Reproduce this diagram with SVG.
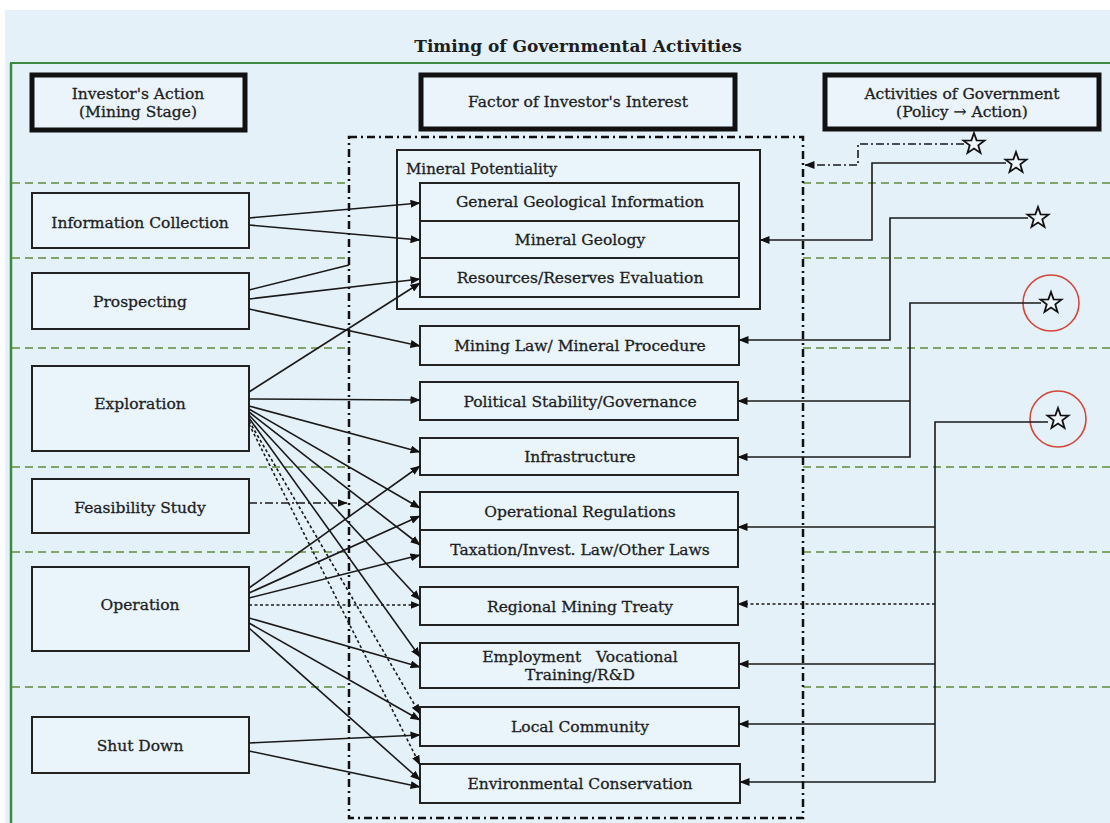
<svg xmlns="http://www.w3.org/2000/svg" width="1110" height="823" viewBox="0 0 1110 823">
<style>
text{font-family:"DejaVu Serif","Liberation Serif",serif;fill:#1e1e1e;stroke:#1e1e1e;stroke-width:0.3;font-size:15.5px;text-anchor:middle}
.title{font-weight:bold;font-size:17px;stroke-width:0}
.hdr{fill:#eaf4fa;stroke:#111;stroke-width:5}
.box{fill:#e9f4fb;stroke:#222;stroke-width:2}
.sep{stroke:#5f8a3a;stroke-width:1.6;stroke-dasharray:8 5;fill:none}
.c{stroke:#1a1a1a;stroke-width:1.6;fill:none}
.arr{marker-end:url(#ah)}
.dot{stroke-dasharray:3 2.5}
.dd{stroke-dasharray:8 3 2 3}
.star{fill:#eef6fb;stroke:#111;stroke-width:1.8;stroke-linejoin:miter}
.ring{fill:none;stroke:#d2473a;stroke-width:1.6}
</style>
<defs>
<marker id="ah" markerWidth="10" markerHeight="8" refX="9.5" refY="4" orient="auto" markerUnits="userSpaceOnUse"><path d="M0,0 L10,4 L0,8 z" fill="#111"/></marker>
<polygon id="star" points="0,-11 2.6,-3.6 10.5,-3.4 4.3,1.4 6.5,8.9 0,4.5 -6.5,8.9 -4.3,1.4 -10.5,-3.4 -2.6,-3.6"/>
</defs>
<rect x="0" y="0" width="1110" height="823" fill="#ffffff"/>
<rect x="5" y="10" width="1105" height="813" fill="#e4f1f8"/>
<g id="frame">
<line x1="10" y1="63" x2="1110" y2="63" stroke="#3d8b3d" stroke-width="2"/>
<line x1="11" y1="63" x2="11" y2="823" stroke="#3d8b3d" stroke-width="2.5"/>
<text class="title" x="578" y="52">Timing of Governmental Activities</text>
</g>
<g id="separators">
<path class="sep" d="M12,183 H349 M12,258 H349 M12,348 H349 M12,467 H349 M12,552 H349 M12,687 H349"/>
<path class="sep" d="M803,183 H1110 M803,258 H1110 M803,348 H1110 M803,467 H1110 M803,552 H1110 M803,687 H1110"/>
</g>
<rect id="factor-area" x="349" y="137" width="454" height="681" fill="none" stroke="#111" stroke-width="2.5" stroke-dasharray="8 4 2 4"/>
<g id="hdr-investor"><rect class="hdr" x="32" y="75" width="213" height="55"/><text x="138" y="99">Investor's Action</text><text x="138" y="117">(Mining Stage)</text></g>
<g id="hdr-factor"><rect class="hdr" x="421" y="75" width="314" height="54"/><text x="578" y="107">Factor of Investor's Interest</text></g>
<g id="hdr-gov"><rect class="hdr" x="825" y="75" width="274" height="54"/><text x="962" y="99">Activities of Government</text><text x="962" y="117">(Policy → Action)</text></g>
<g id="n-info"><rect class="box" x="32" y="193" width="217" height="55"/><text x="140" y="228">Information Collection</text></g>
<g id="n-prosp"><rect class="box" x="32" y="273" width="217" height="56"/><text x="140" y="307">Prospecting</text></g>
<g id="n-explo"><rect class="box" x="32" y="366" width="217" height="85"/><text x="140" y="409">Exploration</text></g>
<g id="n-feas"><rect class="box" x="32" y="479" width="217" height="54"/><text x="140" y="513">Feasibility Study</text></g>
<g id="n-oper"><rect class="box" x="32" y="567" width="217" height="84"/><text x="140" y="610">Operation</text></g>
<g id="n-shut"><rect class="box" x="32" y="717" width="217" height="56"/><text x="140" y="751">Shut Down</text></g>
<g id="n-mineral">
<rect class="box" x="397" y="150" width="363" height="159"/>
<text x="406" y="174" style="text-anchor:start;font-size:15px">Mineral Potentiality</text>
<rect class="box" x="420" y="183" width="319" height="38"/><text x="580" y="207">General Geological Information</text>
<rect class="box" x="420" y="221" width="319" height="37"/><text x="580" y="245">Mineral Geology</text>
<rect class="box" x="420" y="258" width="319" height="39"/><text x="580" y="283">Resources/Reserves Evaluation</text>
</g>
<g id="n-law"><rect class="box" x="420" y="326" width="319" height="39"/><text x="580" y="351">Mining Law/ Mineral Procedure</text></g>
<g id="n-polit"><rect class="box" x="420" y="382" width="318" height="38"/><text x="580" y="407">Political Stability/Governance</text></g>
<g id="n-infra"><rect class="box" x="420" y="438" width="318" height="37"/><text x="580" y="462">Infrastructure</text></g>
<g id="n-opreg"><rect class="box" x="420" y="492" width="318" height="38"/><text x="580" y="517">Operational Regulations</text>
<rect class="box" x="420" y="530" width="318" height="37"/><text x="580" y="555">Taxation/Invest. Law/Other Laws</text></g>
<g id="n-treaty"><rect class="box" x="420" y="587" width="318" height="38"/><text x="580" y="612">Regional Mining Treaty</text></g>
<g id="n-employ"><rect class="box" x="420" y="643" width="319" height="45"/><text x="580" y="662">Employment&#160;&#160;&#160;Vocational</text><text x="580" y="680">Training/R&amp;D</text></g>
<g id="n-local"><rect class="box" x="420" y="707" width="319" height="39"/><text x="580" y="732">Local Community</text></g>
<g id="n-env"><rect class="box" x="420" y="764" width="320" height="39"/><text x="580" y="789">Environmental Conservation</text></g>
<g id="gov-stars">
<use href="#star" class="star" x="974" y="144"/>
<use href="#star" class="star" x="1016" y="163"/>
<use href="#star" class="star" x="1038" y="218"/>
<use href="#star" class="star" x="1051" y="303"/>
<use href="#star" class="star" x="1058" y="419"/>
<circle class="ring" cx="1051" cy="303" r="28"/>
<circle class="ring" cx="1058" cy="419" r="28"/>
</g>
<g id="connectors">
<path class="c arr" d="M249,218 L420,203"/>
<path class="c arr" d="M249,225 L420,240"/>
<path class="c" d="M249,290 L349,265"/>
<path class="c arr" d="M249,299 L420,279"/>
<path class="c arr" d="M249,309 L420,346"/>
<path class="c arr" d="M249,392 L420,283"/>
<path class="c arr" d="M249,399 L420,400"/>
<path class="c arr" d="M249,406 L420,452"/>
<path class="c arr" d="M249,409 L420,508"/>
<path class="c arr" d="M249,412 L420,545"/>
<path class="c arr" d="M249,415 L420,600"/>
<path class="c arr" d="M249,418 L420,657" stroke-width="1.2"/>
<path class="c arr dot" d="M249,421 L420,714"/>
<path class="c arr dot" d="M249,424 L420,765"/>
<path class="c arr dd" d="M249,503 L347,503" stroke-width="2"/>
<path class="c arr" d="M249,588 L420,466"/>
<path class="c arr" d="M249,593 L420,516"/>
<path class="c arr" d="M249,598 L420,555"/>
<path class="c arr dot" d="M249,605 L420,605"/>
<path class="c arr" d="M249,618 L420,667"/>
<path class="c arr" d="M249,623 L420,720"/>
<path class="c arr" d="M249,628 L420,780"/>
<path class="c arr" d="M249,743 L420,735"/>
<path class="c arr" d="M249,751 L420,787"/>
<path class="c arr dd" d="M964,144 H858 V165 H805" stroke-width="1.5"/>
<path class="c arr" d="M1006,163 H872 V240 H760"/>
<path class="c arr" d="M1028,218 H890 V340 H739"/>
<path class="c arr" d="M1041,303 H910 V457 H738"/>
<path class="c arr" d="M910,401 H738"/>
<path class="c arr" d="M1048,422 H935 V782 H740"/>
<path class="c arr" d="M935,527 H738"/>
<path class="c arr dot" d="M935,604 H738"/>
<path class="c arr" d="M935,664 H739"/>
<path class="c arr" d="M935,724 H739"/>
</g>
</svg>
